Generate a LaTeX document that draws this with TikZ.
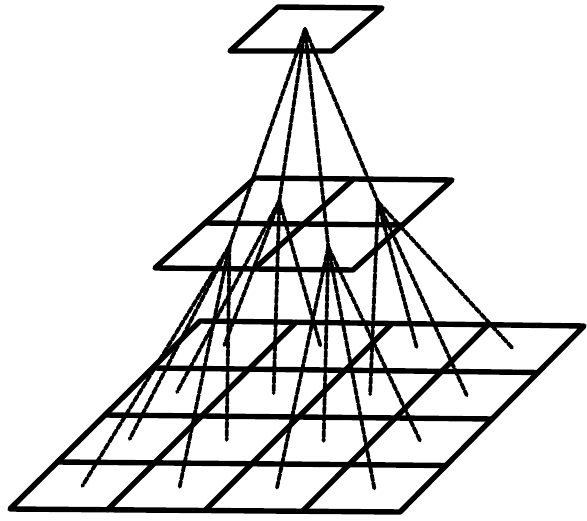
\documentclass[tikz,border=0pt]{standalone}
\usetikzlibrary{calc}
\begin{document}
\begin{tikzpicture}[x=1pt,y=-1pt,
  gridline/.style={line width=5.4pt, line join=round, line cap=round},
  fanline/.style={line width=3.8pt, dash pattern=on 6pt off 2pt, line cap=round}]
\useasboundingbox (0,0) rectangle (587,521);
% top square
\coordinate (tA) at (278,7);
\coordinate (tB) at (382,8);
\coordinate (tC) at (332,51);
\coordinate (tD) at (230,51);
\draw[gridline] (tA) -- (tB) -- (tC) -- (tD) -- cycle;
\coordinate (apex) at ($(tA)!0.5!(tC)$);
% middle 2x2 grid
\coordinate (mA) at (255,178);
\coordinate (mB) at (452,180);
\coordinate (mC) at (353,270);
\coordinate (mD) at (155,268);
\draw[gridline] (mA) -- (mB) -- (mC) -- (mD) -- cycle;
\draw[gridline] ($(mA)!0.5!(mB)$) -- ($(mD)!0.5!(mC)$);
\draw[gridline] ($(mA)!0.5!(mD)$) -- ($(mB)!0.5!(mC)$);
% bottom 4x4 grid
\coordinate (bA) at (200,321);
\coordinate (bB) at (584,326);
\coordinate (bC) at (400,512);
\coordinate (bD) at (10,509);
\draw[gridline] (bA) -- (bB) -- (bC) -- (bD) -- cycle;
\foreach \i in {1,2,3} {
  \draw[gridline] ($(bA)!\i/4!(bB)$) -- ($(bD)!\i/4!(bC)$);
  \draw[gridline] ($(bA)!\i/4!(bD)$) -- ($(bB)!\i/4!(bC)$);
}
% cell centres
\foreach \r in {1,2} {
  \foreach \c in {1,2} {
    \pgfmathsetmacro\u{(2*\c-1)/4}
    \pgfmathsetmacro\v{(2*\r-1)/4}
    \coordinate (mp) at ($(mA)!\u!(mB)$);
    \coordinate (mq) at ($(mD)!\u!(mC)$);
    \coordinate (m\r\c) at ($(mp)!\v!(mq)$);
  }
}
\foreach \r in {1,2,3,4} {
  \foreach \c in {1,2,3,4} {
    \pgfmathsetmacro\u{(2*\c-1)/8}
    \pgfmathsetmacro\v{(2*\r-1)/8}
    \coordinate (bp) at ($(bA)!\u!(bB)$);
    \coordinate (bq) at ($(bD)!\u!(bC)$);
    \coordinate (b\r\c) at ($(bp)!\v!(bq)$);
  }
}
% connectors from apex to middle cells
\foreach \r in {1,2} {
  \foreach \c in {1,2} {
    \draw[fanline] (apex) -- (m\r\c);
  }
}
% connectors from middle cells to bottom cells
\foreach \R in {1,2} {
  \foreach \C in {1,2} {
    \foreach \dr in {0,1} {
      \foreach \dc in {0,1} {
        \pgfmathtruncatemacro\rr{2*\R-1+\dr}
        \pgfmathtruncatemacro\cc{2*\C-1+\dc}
        \draw[fanline] (m\R\C) -- (b\rr\cc);
      }
    }
  }
}
\end{tikzpicture}
\end{document}
